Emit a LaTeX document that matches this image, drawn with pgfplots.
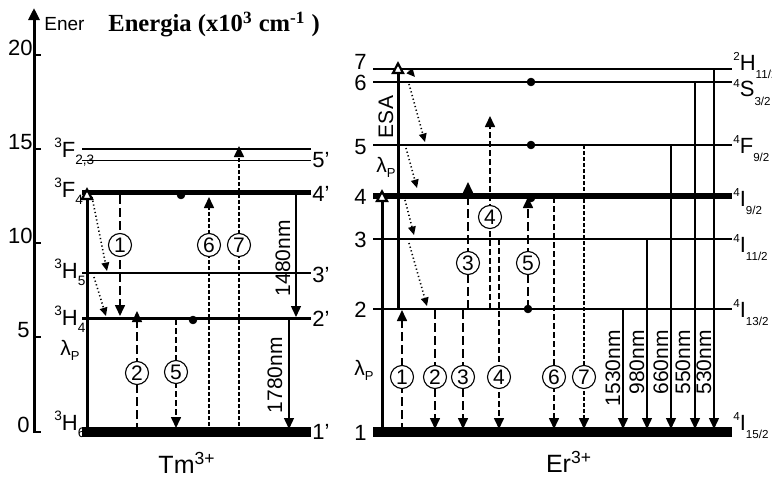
\documentclass[border=0pt]{standalone}
\usepackage{fontspec}
\setmainfont{Liberation Sans}
\newfontfamily\timesf{Liberation Serif}
\usepackage{pgfplots}
\pgfplotsset{compat=1.18}
\usetikzlibrary{arrows.meta}
\newcommand\fs[1]{\fontsize{#1}{#1}\selectfont}
\newcommand\trm[3]{{\raisebox{0.8ex}{\fs{6.8}#1}#2\raisebox{-0.65ex}{\fs{6.8}#3}}}
\newcommand\trmB[3]{{\raisebox{0.85ex}{\fs{5.8}#1}#2\raisebox{-0.75ex}{\fs{5.8}#3}}}
\newcommand\lp{λ\raisebox{-0.45ex}{\fs{6.5}P}}
\tikzset{
  tl/.style={line width=0.75pt},
  ar/.style={line width=0.8pt,-{Triangle[width=5pt,length=5.5pt]}},
  ld/.style={dash pattern=on 4.5pt off 2pt},
  md/.style={dash pattern=on 3pt off 1.5pt},
  sd/.style={dash pattern=on 2pt off 1pt},
  dotar/.style={line width=0.8pt,dash pattern=on 0.6pt off 1.3pt,-{Triangle[width=3.8pt,length=4.2pt]}},
  pump/.style={line width=1.5pt,-{Triangle[width=6.5pt,length=6.5pt,fill=white,line width=1.1pt]}},
  circ/.style={circle,draw,fill=white,inner sep=0pt,minimum size=11.5pt,line width=0.55pt,font=\fs{10.5}},
  wl/.style={rotate=90,anchor=east,inner sep=0pt,font=\fs{10.5}},
}
\begin{document}
\begin{tikzpicture}
\begin{axis}[hide axis, scale only axis, width=386pt, height=241pt,
  xmin=0,xmax=772,ymin=0,ymax=482,y dir=reverse, clip=false]
\coordinate (bl) at (axis cs:0,482);
\coordinate (tr) at (axis cs:772,0);
% ---- energy axis
\addplot[line width=1.5pt,-{Triangle[width=5.5pt,length=6pt]}] coordinates {(34,433) (34,8)};
\addplot[line width=0.8pt] coordinates {(34,55) (41,55)};
\addplot[line width=0.8pt] coordinates {(34,149) (41,149)};
\addplot[line width=0.8pt] coordinates {(34,243) (41,243)};
\addplot[line width=0.8pt] coordinates {(34,337) (41,337)};
\addplot[line width=0.8pt] coordinates {(34,432) (41,432)};
% ---- Tm levels
\addplot[tl] coordinates {(82,149) (311,149)};
\addplot[tl] coordinates {(82,160.5) (311,160.5)};
\addplot[line width=2.8pt] coordinates {(82,192.5) (311,192.5)};
\addplot[tl] coordinates {(82,273) (311,273)};
\addplot[line width=1.1pt] coordinates {(82,318.5) (311,318.5)};
\addplot[line width=5pt] coordinates {(82,432) (311,432)};
% ---- Er levels
\addplot[tl] coordinates {(373,69) (732,69)};
\addplot[line width=1pt] coordinates {(373,82) (732,82)};
\addplot[line width=1pt] coordinates {(373,145) (732,145)};
\addplot[line width=2.6pt] coordinates {(373,196) (732,196)};
\addplot[line width=0.8pt] coordinates {(373,239) (732,239)};
\addplot[line width=1pt] coordinates {(373,309) (732,309)};
\addplot[line width=5pt] coordinates {(373,432) (732,432)};
% ---- Tm transitions
\addplot[pump] coordinates {(87,432) (87,187)};
\addplot[dotar] coordinates {(92,197) (107,271)};
\addplot[dotar] coordinates {(94,277) (106,316)};
\addplot[ar,ld] coordinates {(120,195) (120,316)};
\addplot[ar,ld] coordinates {(137,432) (137,311)};
\addplot[ar,md] coordinates {(176,319) (176,428)};
\addplot[ar,sd] coordinates {(209,432) (209,197)};
\addplot[ar,sd] coordinates {(239,432) (239,146)};
\addplot[ar,line width=0.7pt] coordinates {(296,195) (296,317)};
\addplot[ar,line width=0.7pt] coordinates {(289,319) (289,429)};
\addplot[only marks,mark=*,mark size=1.9pt,black] coordinates {(181,195) (193,320)};
% ---- Er transitions
\addplot[pump] coordinates {(382,432) (382,189)};
\addplot[pump] coordinates {(398,309) (398,61)};
\addplot[dotar] coordinates {(408,69) (415,77)};
\addplot[dotar] coordinates {(409,84) (425,142)};
\addplot[dotar] coordinates {(406,148) (417,188)};
\addplot[dotar] coordinates {(405,200) (414,235)};
\addplot[dotar] coordinates {(409,243) (427,306)};
\addplot[ar,ld] coordinates {(402,432) (402,310)};
\addplot[ar,ld] coordinates {(435,310) (435,429)};
\addplot[ar,ld] coordinates {(463,310) (463,429)};
\addplot[ar,ld] coordinates {(468,309) (468,182)};
\addplot[ar,md] coordinates {(490,309) (490,116)};
\addplot[ar,md] coordinates {(499,239) (499,429)};
\addplot[ar,ld] coordinates {(528,309) (528,197)};
\addplot[ar,md] coordinates {(554,197) (554,429)};
\addplot[ar,sd] coordinates {(584,145) (584,429)};
\addplot[ar,line width=0.7pt] coordinates {(623,309) (623,429)};
\addplot[ar,line width=0.7pt] coordinates {(647,239) (647,429)};
\addplot[ar,line width=0.7pt] coordinates {(671,145) (671,429)};
\addplot[ar,line width=0.7pt] coordinates {(695,82) (695,429)};
\addplot[ar,line width=0.7pt] coordinates {(714,69) (714,429)};
\addplot[only marks,mark=*,mark size=1.9pt,black] coordinates {(531,82) (531,145) (531,198) (528,309)};
% ---- circled numbers
\node[circ] at (axis cs:120,245) {1};
\node[circ] at (axis cs:137,373) {2};
\node[circ] at (axis cs:176,372) {5};
\node[circ] at (axis cs:209,245) {6};
\node[circ] at (axis cs:239,245) {7};
\node[circ] at (axis cs:402,377) {1};
\node[circ] at (axis cs:435,377) {2};
\node[circ] at (axis cs:463,377) {3};
\node[circ] at (axis cs:468,263) {3};
\node[circ] at (axis cs:490,217) {4};
\node[circ] at (axis cs:499,377) {4};
\node[circ] at (axis cs:528,263) {5};
\node[circ] at (axis cs:554,377) {6};
\node[circ] at (axis cs:584,377) {7};
% ---- wavelength labels
\node[wl] at (axis cs:283,220) {1480nm};
\node[wl] at (axis cs:275,337) {1780nm};
\node[wl] at (axis cs:613,330) {1530nm};
\node[wl] at (axis cs:637,330) {980nm};
\node[wl] at (axis cs:661,330) {660nm};
\node[wl] at (axis cs:683,330) {550nm};
\node[wl] at (axis cs:704,330) {530nm};
% ---- axis labels and titles
\node[anchor=base east,inner sep=0pt,font=\fs{11}] at (axis cs:33,55) {20};
\node[anchor=base east,inner sep=0pt,font=\fs{11}] at (axis cs:33,149) {15};
\node[anchor=base east,inner sep=0pt,font=\fs{11}] at (axis cs:33,243) {10};
\node[anchor=base east,inner sep=0pt,font=\fs{11}] at (axis cs:30,337) {5};
\node[anchor=base east,inner sep=0pt,font=\fs{11}] at (axis cs:30,432) {0};
\node[anchor=base west,inner sep=0pt,font=\fs{9.5}] at (axis cs:44,31) {Ener};
\node[anchor=base west,inner sep=0pt,font=\timesf\bfseries\fs{12.3}] at (axis cs:108,32) {Energia (x10\textsuperscript{3} cm\textsuperscript{-1} )};
\node[anchor=base,inner sep=0pt,font=\fs{12.5}] at (axis cs:187,473) {Tm\textsuperscript{3+}};
\node[anchor=base,inner sep=0pt,font=\fs{12.5}] at (axis cs:569,472) {Er\textsuperscript{3+}};
% ---- Tm level labels
\node[anchor=base west,inner sep=0pt,font=\fs{11}] at (axis cs:54,157) {\trm{3}{F}{2,3}};
\node[anchor=base west,inner sep=0pt,font=\fs{11}] at (axis cs:54,197) {\trm{3}{F}{4}};
\node[anchor=base west,inner sep=0pt,font=\fs{11}] at (axis cs:54,278) {\trm{3}{H}{5}};
\node[anchor=base west,inner sep=0pt,font=\fs{11}] at (axis cs:54,325) {\trm{3}{H}{4}};
\node[anchor=base west,inner sep=0pt,font=\fs{11}] at (axis cs:54,430) {\trm{3}{H}{6}};
\node[inner sep=0pt,font=\fs{10.5}] at (axis cs:70,350) {\lp};
\node[anchor=west,inner sep=0pt,font=\fs{11}] at (axis cs:312,160.5) {5'};
\node[anchor=west,inner sep=0pt,font=\fs{11}] at (axis cs:312,194) {4'};
\node[anchor=west,inner sep=0pt,font=\fs{11}] at (axis cs:312,275) {3'};
\node[anchor=west,inner sep=0pt,font=\fs{11}] at (axis cs:312,319) {2'};
\node[anchor=west,inner sep=0pt,font=\fs{11}] at (axis cs:312,432) {1'};
% ---- Er level labels
\node[anchor=east,inner sep=0pt,font=\fs{11}] at (axis cs:367,62) {7};
\node[anchor=east,inner sep=0pt,font=\fs{11}] at (axis cs:367,83) {6};
\node[anchor=east,inner sep=0pt,font=\fs{11}] at (axis cs:367,147) {5};
\node[anchor=east,inner sep=0pt,font=\fs{11}] at (axis cs:367,197) {4};
\node[anchor=east,inner sep=0pt,font=\fs{11}] at (axis cs:367,240) {3};
\node[anchor=east,inner sep=0pt,font=\fs{11}] at (axis cs:367,310) {2};
\node[anchor=east,inner sep=0pt,font=\fs{11}] at (axis cs:367,433) {1};
\node[inner sep=0pt,font=\fs{10.5}] at (axis cs:364,370) {\lp};
\node[inner sep=0pt,font=\fs{10.5}] at (axis cs:386,167) {\lp};
\node[rotate=90,inner sep=0pt,font=\fs{10.5}] at (axis cs:386,117) {ESA};
\node[anchor=base west,inner sep=0pt,font=\fs{11}] at (axis cs:733,70) {\trmB{2}{H}{11/2}};
\node[anchor=base west,inner sep=0pt,font=\fs{11}] at (axis cs:733,97) {\trmB{4}{S}{3/2}};
\node[anchor=base west,inner sep=0pt,font=\fs{11}] at (axis cs:733,153) {\trmB{4}{F}{9/2}};
\node[anchor=base west,inner sep=0pt,font=\fs{11}] at (axis cs:733,206) {\trmB{4}{I}{9/2}};
\node[anchor=base west,inner sep=0pt,font=\fs{11}] at (axis cs:733,252) {\trmB{4}{I}{11/2}};
\node[anchor=base west,inner sep=0pt,font=\fs{11}] at (axis cs:733,317) {\trmB{4}{I}{13/2}};
\node[anchor=base west,inner sep=0pt,font=\fs{11}] at (axis cs:733,430) {\trmB{4}{I}{15/2}};
\end{axis}
\pgfresetboundingbox
\path (bl) rectangle (tr);
\end{tikzpicture}
\end{document}
